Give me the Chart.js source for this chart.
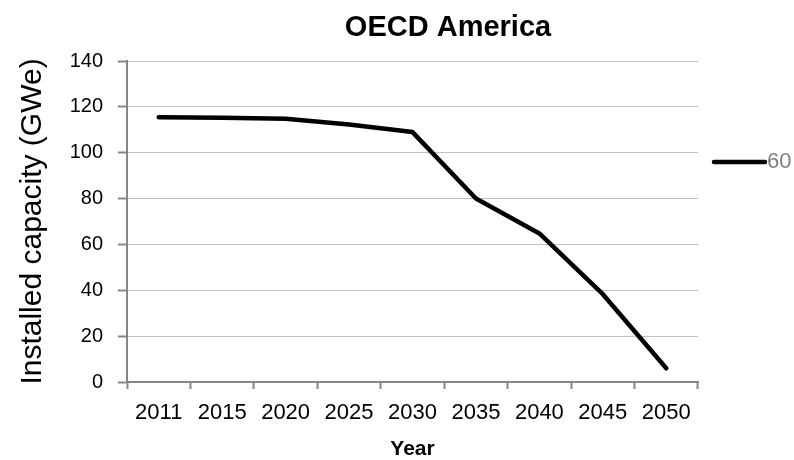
<!DOCTYPE html>
<html>
<head>
<meta charset="utf-8">
<script src="https://cdn.jsdelivr.net/npm/chart.js@4.4.1/dist/chart.umd.min.js"></script>
<style>
  html, body { margin: 0; padding: 0; background: #fff; }
  #wrap { width: 794px; height: 460px; }
</style>
</head>
<body>
<div id="wrap"><canvas id="chartOECD" width="794" height="460"></canvas></div>
<script>
// Datos
const years = ["2011", "2015", "2020", "2025", "2030", "2035", "2040", "2045", "2050"];
const capacity60 = [115.5, 115.3, 114.8, 112.3, 109, 80, 64.8, 38.3, 6];
const yTicks = [0, 20, 40, 60, 80, 100, 120, 140];
const seriesName = "60";
const chartTitle = "OECD America";

const sans = "'Liberation Sans', Arial, sans-serif";

// Título y leyenda dibujados a mano
const extras = {
  id: "extras",
  afterDraw(chart) {
    const ctx = chart.ctx;
    ctx.save();
    ctx.fillStyle = "#000";
    ctx.font = "bold 29px " + sans;
    ctx.textAlign = "center";
    ctx.textBaseline = "middle";
    ctx.fillText(chartTitle, 448, 28);

    const ds = chart.data.datasets[0];
    ctx.strokeStyle = ds.borderColor;
    ctx.lineWidth = ds.borderWidth;
    ctx.lineCap = "round";
    ctx.beginPath();
    ctx.moveTo(714, 162);
    ctx.lineTo(765, 162);
    ctx.stroke();
    ctx.fillStyle = "#808080";
    ctx.font = "22px " + sans;
    ctx.textAlign = "left";
    ctx.fillText(ds.label, 767, 162);
    ctx.restore();
  },
};

const chart = new Chart(document.getElementById("chartOECD"), {
  type: "line",
  data: {
    labels: years,
    datasets: [
      {
        label: seriesName,
        data: capacity60,
        borderColor: "#000",
        borderWidth: 4.5,
        borderCapStyle: "round",
        borderJoinStyle: "round",
        pointRadius: 0,
        tension: 0,
      },
    ],
  },
  options: {
    responsive: false,
    animation: false,
    layout: { padding: { top: 61, right: 96, left: 0, bottom: 0 } },
    plugins: {
      legend: { display: false },
      title: { display: false },
      tooltip: { enabled: false },
    },
    scales: {
      x: {
        offset: true,
        grid: {
          offset: true,
          drawOnChartArea: false,
          tickLength: 7,
          tickColor: "#868686",
          tickWidth: 2,
        },
        border: { color: "#868686", width: 2 },
        ticks: {
          color: "#000",
          font: { family: sans, size: 22 },
          padding: 11,
          maxRotation: 0,
        },
        title: {
          display: true,
          text: "Year",
          color: "#000",
          font: { family: sans, size: 21, weight: "bold", lineHeight: 1.0 },
          padding: { top: 0, bottom: 0 },
        },
        afterFit(scale) {
          scale.height = 78;
        },
      },
      y: {
        min: 0,
        max: 140,
        afterBuildTicks(scale) {
          scale.ticks = yTicks.map((v) => ({ value: v }));
        },
        grid: {
          color: "#c0c0c0",
          lineWidth: 1,
          tickLength: 9,
          tickColor: "#868686",
          tickWidth: 2,
        },
        border: { color: "#868686", width: 2 },
        ticks: {
          color: "#000",
          font: { family: sans, size: 20 },
          padding: 15,
        },
        title: {
          display: true,
          text: "Installed capacity (GWe)",
          color: "#000",
          font: { family: sans, size: 30 },
          padding: { top: 15, bottom: 0 },
        },
        afterFit(scale) {
          scale.width = 127;
        },
      },
    },
  },
  plugins: [extras],
});
</script>
</body>
</html>
